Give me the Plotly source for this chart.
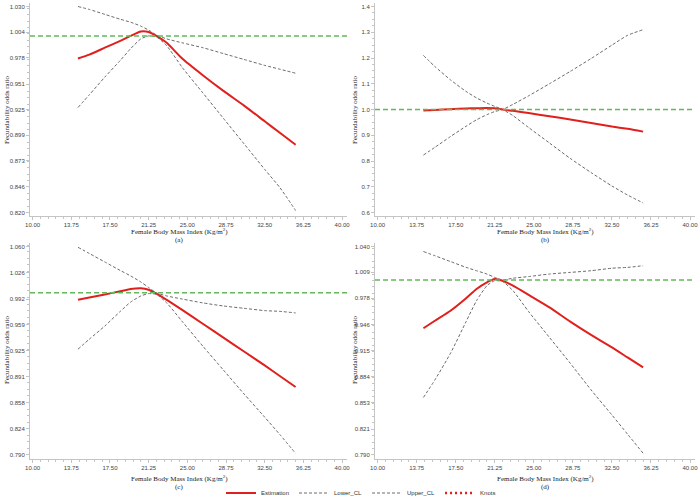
import plotly.graph_objects as go

# ---------------- data ----------------
bmi = [14.4, 15.5, 17.0, 18.5, 19.5, 20.5, 21.25, 22.0, 23.0, 24.5, 26.5, 28.5, 30.5, 32.5, 34.0, 35.5]

est_a = [0.977, 0.981, 0.988, 0.995, 1.000, 1.0045, 1.004, 1.000, 0.993, 0.977, 0.960, 0.944, 0.929, 0.913, 0.901, 0.889]
low_a = [0.927, 0.940, 0.958, 0.975, 0.987, 0.997, 1.000, 0.999, 0.990, 0.968, 0.942, 0.916, 0.890, 0.864, 0.845, 0.822]
upp_a = [1.030, 1.027, 1.022, 1.017, 1.014, 1.010, 1.006, 1.001, 0.997, 0.993, 0.988, 0.982, 0.976, 0.970, 0.966, 0.962]

est_b = [0.996, 0.998, 1.001, 1.004, 1.005, 1.006, 1.005, 1.000, 0.995, 0.986, 0.974, 0.961, 0.948, 0.934, 0.925, 0.914]
low_b = [0.823, 0.853, 0.895, 0.935, 0.960, 0.980, 0.992, 1.000, 1.020, 1.053, 1.100, 1.148, 1.198, 1.250, 1.288, 1.310]
upp_b = [1.210, 1.167, 1.115, 1.070, 1.045, 1.025, 1.012, 1.000, 0.976, 0.930, 0.870, 0.810, 0.755, 0.703, 0.668, 0.637]

est_c = [0.991, 0.994, 0.998, 1.002, 1.005, 1.006, 1.004, 0.999, 0.991, 0.978, 0.960, 0.942, 0.924, 0.906, 0.892, 0.878]
low_c = [0.927, 0.940, 0.957, 0.976, 0.988, 0.996, 0.999, 0.998, 0.987, 0.963, 0.931, 0.900, 0.869, 0.839, 0.816, 0.792]
upp_c = [1.059, 1.051, 1.040, 1.029, 1.022, 1.014, 1.007, 1.000, 0.996, 0.992, 0.987, 0.983, 0.980, 0.977, 0.976, 0.974]

est_d = [0.942, 0.951, 0.963, 0.978, 0.989, 0.997, 1.001, 0.999, 0.993, 0.982, 0.967, 0.950, 0.934, 0.919, 0.907, 0.895]
low_d = [0.859, 0.880, 0.912, 0.950, 0.975, 0.993, 0.999, 0.998, 0.987, 0.962, 0.931, 0.900, 0.868, 0.838, 0.815, 0.792]
upp_d = [1.034, 1.029, 1.022, 1.015, 1.011, 1.007, 1.003, 1.000, 1.002, 1.004, 1.007, 1.009, 1.011, 1.014, 1.015, 1.017]

yticks_a = ["0.820", "0.846", "0.873", "0.899", "0.925", "0.951", "0.978", "1.004", "1.030"]
yticks_b = ["0.6", "0.7", "0.8", "0.9", "1.0", "1.1", "1.2", "1.3", "1.4"]
yticks_c = ["0.790", "0.824", "0.858", "0.891", "0.925", "0.959", "0.992", "1.026", "1.060"]
yticks_d = ["0.790", "0.821", "0.853", "0.884", "0.915", "0.946", "0.978", "1.009", "1.040"]
xticks = ["10.00", "13.75", "17.50", "21.25", "25.00", "28.75", "32.50", "36.25", "40.00"]
panel_labels = ["(a)", "(b)", "(c)", "(d)"]
reference_or = 1.0

# ---------------- figure ----------------
W, H = 700, 499
fig = go.Figure()

RED = "#e0201c"
GRAY = "#6a6a6a"
GREEN = "#63b95a"
AXC = "#c4c4c4"
TICKFONT = dict(family="Liberation Sans, Arial, sans-serif", size=6, color="#444")
TITLEFONT = dict(family="Liberation Serif, DejaVu Serif, serif", size=7, color="#222")

panels = [
    (est_a, low_a, upp_a, yticks_a),
    (est_b, low_b, upp_b, yticks_b),
    (est_c, low_c, upp_c, yticks_c),
    (est_d, low_d, upp_d, yticks_d),
]

# pixel layout (left, right) and (top, bottom)
xdom_px = [(30, 347), (375, 695)]
ydom_px = [(3, 216), (243, 458.5)]
xtitle_px = [179, 545]
xtitle_y = [231, 478]
lab_y = [240, 487]
ytitle_y = [110, 350]
ytitle_x = [7, 355]

xt_vals = [float(t) for t in xticks]
xr = [9.75, 40.48]

for i, (est, low, upp, ytl) in enumerate(panels):
    col, row = i % 2, i // 2
    n = i + 1
    xa = "x" if n == 1 else f"x{n}"
    ya = "y" if n == 1 else f"y{n}"
    yv = [float(t) for t in ytl]
    span = yv[-1] - yv[0]
    yr = [yv[0] - 0.017 * span, yv[-1] + 0.017 * span]
    step = yv[1] - yv[0]

    showleg = (i == 0)
    fig.add_trace(go.Scatter(x=bmi, y=est, xaxis=xa, yaxis=ya, mode="lines", name="Estimation",
                             line=dict(color=RED, width=2, shape="spline", smoothing=0.6),
                             showlegend=showleg, legendrank=1))
    fig.add_trace(go.Scatter(x=bmi, y=low, xaxis=xa, yaxis=ya, mode="lines", name="Lower_CL",
                             line=dict(color=GRAY, width=1, dash="3px,2px", shape="spline", smoothing=0.6),
                             showlegend=showleg, legendrank=2))
    fig.add_trace(go.Scatter(x=bmi, y=upp, xaxis=xa, yaxis=ya, mode="lines", name="Upper_CL",
                             line=dict(color=GRAY, width=1, dash="3px,2px", shape="spline", smoothing=0.6),
                             showlegend=showleg, legendrank=3))

    l, r = xdom_px[col]
    t, b = ydom_px[row]
    xkey = "xaxis" if n == 1 else f"xaxis{n}"
    ykey = "yaxis" if n == 1 else f"yaxis{n}"
    fig.layout[xkey] = dict(
        domain=[l / W, r / W], anchor=ya, range=xr, automargin=False,
        tickmode="array", tickvals=xt_vals, ticktext=xticks,
        showgrid=False, zeroline=False, showline=True, linecolor=AXC, linewidth=1,
        ticks="outside", ticklen=3, tickcolor=AXC, tickfont=TICKFONT,
        minor=dict(tickmode="linear", tick0=10, dtick=0.75, ticks="outside", ticklen=2,
                   tickcolor=AXC, showgrid=False),
    )
    fig.layout[ykey] = dict(
        domain=[1 - b / H, 1 - t / H], anchor=xa, range=yr, automargin=False,
        tickmode="array", tickvals=yv, ticktext=ytl,
        showgrid=False, zeroline=False, showline=True, linecolor=AXC, linewidth=1,
        ticks="outside", ticklen=3, tickcolor=AXC, tickfont=TICKFONT,
        minor=dict(tickmode="linear", tick0=yv[0], dtick=step / 4, ticks="outside", ticklen=2,
                   tickcolor=AXC, showgrid=False),
    )

    # reference line at OR = 1
    fig.add_shape(type="line", xref=f"{xa} domain", yref=ya, x0=0, x1=1,
                  y0=reference_or, y1=reference_or,
                  line=dict(color=GREEN, width=1.5, dash="5px,3px"))

    # titles
    fig.add_annotation(text="Female Body Mass Index (Kg/m<sup>2</sup>)", xref="paper", yref="paper",
                       x=xtitle_px[col] / W, y=1 - xtitle_y[row] / H, showarrow=False,
                       xanchor="center", yanchor="middle", font=TITLEFONT)
    fig.add_annotation(text=panel_labels[i], xref="paper", yref="paper",
                       x=xtitle_px[col] / W, y=1 - lab_y[row] / H, showarrow=False,
                       xanchor="center", yanchor="middle", font=TITLEFONT)
    fig.add_annotation(text="Fecundability odds ratio", xref="paper", yref="paper",
                       x=ytitle_x[col] / W, y=1 - ytitle_y[row] / H,
                       showarrow=False, textangle=-90, xanchor="center", yanchor="middle",
                       font=TITLEFONT)

# Knots legend entry (no knots drawn in the panels)
fig.add_trace(go.Scatter(x=[None], y=[None], mode="lines", name="Knots",
                         line=dict(color=RED, width=2.5, dash="2px,3px"),
                         showlegend=True, legendrank=4))

fig.update_layout(
    template="none",
    width=W, height=H,
    margin=dict(l=0, r=0, t=0, b=0, autoexpand=False),
    paper_bgcolor="white", plot_bgcolor="white",
    showlegend=True,
    legend=dict(orientation="h", x=361 / W, xanchor="center", y=1 - 493 / H, yanchor="middle",
                font=dict(family="Liberation Sans, Arial, sans-serif", size=6, color="#333"),
                itemwidth=30, tracegroupgap=0, bgcolor="rgba(0,0,0,0)"),
)

fig.write_html("out.html", config={"displayModeBar": False},
               post_script="document.body.style.margin='0px';document.body.style.padding='0px';")
